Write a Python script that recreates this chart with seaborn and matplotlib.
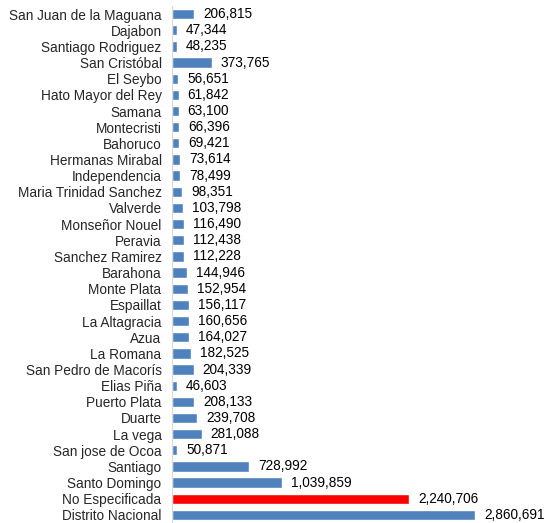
import matplotlib
matplotlib.use("Agg")
import matplotlib.pyplot as plt
import seaborn as sns
import pandas as pd

provinces = [
    "San Juan de la Maguana", "Dajabon", "Santiago Rodriguez", "San Cristóbal",
    "El Seybo", "Hato Mayor del Rey", "Samana", "Montecristi", "Bahoruco",
    "Hermanas Mirabal", "Independencia", "Maria Trinidad Sanchez", "Valverde",
    "Monseñor Nouel", "Peravia", "Sanchez Ramirez", "Barahona", "Monte Plata",
    "Espaillat", "La Altagracia", "Azua", "La Romana", "San Pedro de Macorís",
    "Elias Piña", "Puerto Plata", "Duarte", "La vega", "San jose de Ocoa",
    "Santiago", "Santo Domingo", "No Especificada", "Distrito Nacional",
]
values = [
    206815, 47344, 48235, 373765, 56651, 61842, 63100, 66396, 69421,
    73614, 78499, 98351, 103798, 116490, 112438, 112228, 144946, 152954,
    156117, 160656, 164027, 182525, 204339, 46603, 208133, 239708, 281088,
    50871, 728992, 1039859, 2240706, 2860691,
]
highlight = "No Especificada"

df = pd.DataFrame({"province": provinces, "value": values})
palette = {p: ("#FF0000" if p == highlight else "#4F81BD") for p in provinces}

sns.set_style("white")
plt.rcParams["font.family"] = ["Liberation Sans", "DejaVu Sans"]

fig = plt.figure(figsize=(5.47, 5.23), dpi=100)
ax = fig.add_axes([172 / 547, 0.0, (547 - 172) / 547, 517 / 523])

sns.barplot(data=df, y="province", x="value", hue="province", palette=palette,
            order=provinces, legend=False, width=0.64, ax=ax, saturation=1)

for i, v in enumerate(values):
    ax.text(v + 85000, i, f"{v:,}", va="center", ha="left", fontsize=9.8, color="black")

ax.set_xlim(0, 2860691 * (547 - 172) / 303)
ax.set_ylim(31.5, -0.5)
ax.set_xlabel("")
ax.set_ylabel("")
ax.set_xticks([])
ax.tick_params(axis="y", length=0, pad=7.5, labelsize=9.8)
for s in ["top", "right", "bottom"]:
    ax.spines[s].set_visible(False)
ax.spines["left"].set_color("#D9D9D9")
ax.spines["left"].set_linewidth(0.8)

fig.savefig("out.png", dpi=100)
